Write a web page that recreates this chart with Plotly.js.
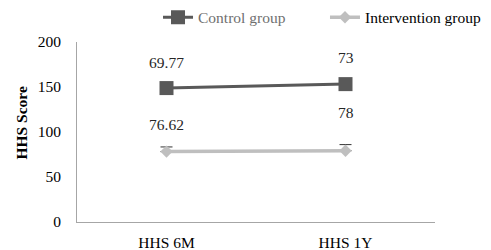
<!DOCTYPE html>
<html>
<head>
<meta charset="utf-8">
<script src="https://cdn.plot.ly/plotly-3.0.1.min.js"></script>
<style>html,body{margin:0;padding:0;background:#fff;}#chart{width:491px;height:250px;}</style>
</head>
<body>
<div id="chart"></div>
<script>
const categories = ["HHS 6M", "HHS 1Y"];
const controlValues = [148.8, 153.2];
const interventionValues = [78.2, 79.2];
const interventionErr = [5.2, 6.8];
const controlLabels = ["69.77", "73"];
const interventionLabels = ["76.62", "78"];
const yTicks = [0, 50, 100, 150, 200];

const FONT = '"Liberation Serif", "Times New Roman", serif';
const FS = 15.5;
const darkGray = "#595959";
const lightGray = "#bfbfbf";

const traces = [
  {
    type: "scatter", mode: "lines+markers",
    x: categories, y: controlValues,
    name: '<span style="color:#6f6f6f">Control group</span>',
    line: {color: darkGray, width: 3},
    marker: {symbol: "square", size: 14, color: darkGray},
    legend: "legend",
    hoverinfo: "skip"
  },
  {
    type: "scatter", mode: "lines+markers",
    x: categories, y: interventionValues,
    name: "Intervention group",
    line: {color: lightGray, width: 3.5},
    marker: {symbol: "diamond", size: 9.5, color: lightGray},
    error_y: {type: "data", symmetric: false, array: interventionErr, arrayminus: [0, 0],
              color: "#333333", thickness: 1, width: 6},
    legend: "legend2",
    hoverinfo: "skip"
  }
];

const labelShiftC = [26, 27];
const labelShiftI = [27, 38];
const annotations = [];
categories.forEach((c, i) => {
  annotations.push({x: c, y: controlValues[i], xref: "x", yref: "y", text: controlLabels[i],
    showarrow: false, yshift: labelShiftC[i], font: {family: FONT, size: FS, color: "#262626"}});
  annotations.push({x: c, y: interventionValues[i], xref: "x", yref: "y", text: interventionLabels[i],
    showarrow: false, yshift: labelShiftI[i], font: {family: FONT, size: FS, color: "#262626"}});
});
annotations.push({xref: "paper", yref: "paper", x: -0.155, y: 0.55, xanchor: "center", yanchor: "middle",
  text: "<b>HHS Score</b>", textangle: -90, showarrow: false,
  font: {family: FONT, size: FS, color: "#000"}});

const legendBase = {orientation: "h", yanchor: "middle", y: 1.135, xanchor: "left",
  font: {family: FONT, size: FS, color: "#000"}, bgcolor: "rgba(0,0,0,0)", borderwidth: 0};

const layout = {
  width: 491, height: 250,
  margin: {l: 77, r: 56, t: 42, b: 28, pad: 0, autoexpand: false},
  paper_bgcolor: "#fff", plot_bgcolor: "#fff",
  font: {family: FONT, size: FS, color: "#000"},
  showlegend: true,
  legend: Object.assign({}, legendBase, {x: 0.2263}),
  legend2: Object.assign({}, legendBase, {x: 0.6927}),
  xaxis: {type: "category", range: [-0.5, 1.5], showline: true, linecolor: "#a6a6a6", linewidth: 1,
          showgrid: false, zeroline: false, ticks: "", ticklabelstandoff: 6,
          tickfont: {family: FONT, size: FS, color: "#000"}},
  yaxis: {range: [0, 200], tickvals: yTicks, showline: true, linecolor: "#a6a6a6", linewidth: 1,
          showgrid: false, zeroline: false, ticks: "", ticklabelstandoff: 12,
          tickfont: {family: FONT, size: FS, color: "#000"}},
  annotations: annotations
};

Plotly.newPlot("chart", traces, layout, {staticPlot: true, displayModeBar: false});
</script>
</body>
</html>
